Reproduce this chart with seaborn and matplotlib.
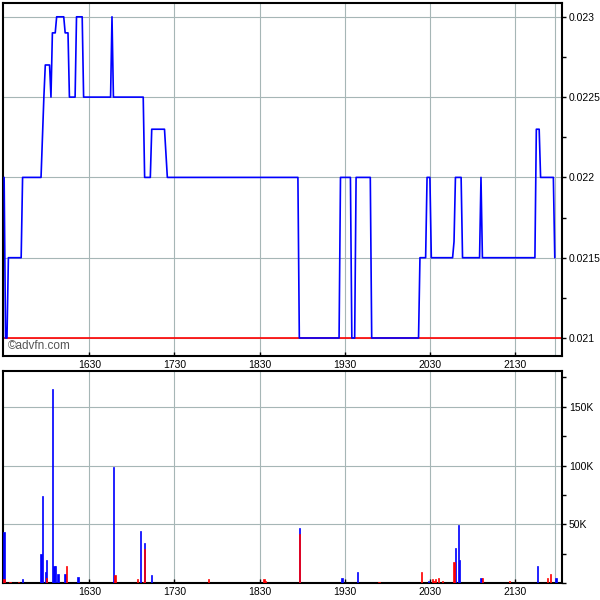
import matplotlib
matplotlib.use("Agg")
import matplotlib.pyplot as plt
from matplotlib.ticker import MultipleLocator, FixedLocator
import numpy as np
import pandas as pd
import seaborn as sns

# ---------------- data ----------------
price_times = ["15:30", "15:31", "15:32", "15:33", "15:42", "15:43", "15:56", "15:58",
               "15:59", "16:02", "16:03", "16:04", "16:06", "16:07", "16:12", "16:13",
               "16:15", "16:16", "16:20", "16:21", "16:25", "16:26", "16:45", "16:46",
               "16:47", "17:08", "17:09", "17:13", "17:14", "17:23", "17:25", "18:57",
               "18:58", "19:26", "19:27", "19:34", "19:35", "19:37", "19:38", "19:48",
               "19:49", "20:22", "20:23", "20:27", "20:28", "20:30", "20:31", "20:46",
               "20:47", "20:48", "20:52", "20:53", "21:05", "21:06", "21:07", "21:44",
               "21:45", "21:47", "21:48", "21:57", "21:58"]
prices = [0.022, 0.021, 0.021, 0.0215, 0.0215, 0.022, 0.022, 0.0225,
          0.0227, 0.0227, 0.0225, 0.0229, 0.0229, 0.023, 0.023, 0.0229,
          0.0229, 0.0225, 0.0225, 0.023, 0.023, 0.0225, 0.0225, 0.023,
          0.0225, 0.0225, 0.022, 0.022, 0.0223, 0.0223, 0.022, 0.022,
          0.021, 0.021, 0.022, 0.022, 0.021, 0.021, 0.022, 0.022,
          0.021, 0.021, 0.0215, 0.0215, 0.022, 0.022, 0.0215, 0.0215,
          0.0216, 0.022, 0.022, 0.0215, 0.0215, 0.022, 0.0215, 0.0215,
          0.0223, 0.0223, 0.022, 0.022, 0.0215]
ref_price = 0.021

buy_times = ["15:30", "15:43", "15:56", "15:57", "15:59", "16:00", "16:04", "16:05",
             "16:06", "16:08", "16:13", "16:22", "16:47", "17:06", "17:09", "17:14",
             "18:58", "19:28", "19:39", "20:29", "20:48", "20:50", "20:51", "21:06",
             "21:46", "21:59"]
buy_vols = [43600, 3400, 25000, 74000, 9400, 19700, 165000, 14500,
            14500, 7700, 7700, 5100, 99000, 44400, 34200, 6800,
            46400, 4600, 9700, 1700, 30200, 49600, 19900, 4600,
            14500, 4600]

sell_times = ["15:30", "15:34", "15:40", "16:00", "16:14", "16:48", "17:04", "17:08",
              "17:09", "17:54", "18:33", "18:34", "18:58", "19:54", "20:24", "20:32",
              "20:33", "20:34", "20:36", "20:39", "20:47", "21:07", "21:26", "21:53",
              "21:55"]
sell_vols = [3400, 1000, 1000, 4600, 14500, 6800, 3400, 1000,
             29300, 3700, 3700, 1700, 41600, 1000, 9700, 3000,
             2000, 3400, 4300, 1700, 18200, 4600, 1700, 4600,
             8000]

time_ticks = ["16:30", "17:30", "18:30", "19:30", "20:30", "21:30"]
time_labels = ["1630", "1730", "1830", "1930", "2030", "2130"]
price_ticks = [0.021, 0.0215, 0.022, 0.0225, 0.023]
price_labels = ["0.021", "0.0215", "0.022", "0.0225", "0.023"]
vol_ticks = [50000, 100000, 150000]
vol_labels = ["50K", "100K", "150K"]


def to_min(s):
    h, m = s.split(":")
    return int(h) * 60 + int(m)


price_df = pd.DataFrame({"t": [to_min(s) for s in price_times], "price": prices})
buy_df = pd.DataFrame({"t": [float(to_min(s)) for s in buy_times], "vol": buy_vols})
sell_df = pd.DataFrame({"t": [float(to_min(s)) for s in sell_times], "vol": sell_vols})

# ---------------- style ----------------
sns.set_theme(style="white")
plt.rcParams["font.family"] = ["Liberation Sans", "DejaVu Sans"]

BLUE = "#0000ff"
RED = "#ff0000"
GRID = "#a6b6b6"
XLIM = (929.2, 1323.1)

fig = plt.figure(figsize=(6, 6), dpi=100)
ax1 = fig.add_axes([0.005, 0.4067, 0.9317, 0.5883])
ax2 = fig.add_axes([0.005, 0.0283, 0.9317, 0.3533])

# price panel
sns.lineplot(data=price_df, x="t", y="price", ax=ax1, color=BLUE, lw=1.2,
             estimator=None, sort=False, zorder=3)
ax1.axhline(ref_price, color=RED, lw=1.2, zorder=2)
ax1.set_ylim(0.020888, 0.023086)

# volume panel
sns.histplot(data=buy_df, x="t", weights="vol", binwidth=1.0,
             binrange=(929.5, 1324.5), ax=ax2, color=BLUE,
             alpha=1, edgecolor=BLUE, linewidth=0.5, zorder=3)
sns.histplot(data=sell_df, x="t", weights="vol", binwidth=1.0,
             binrange=(929.5, 1324.5), ax=ax2, color=RED,
             alpha=1, edgecolor=RED, linewidth=0.5, zorder=4)
ax2.set_ylim(0, 180400)

last_t = price_df["t"].iloc[-1]

for ax in (ax1, ax2):
    ax.set_xlim(*XLIM)
    ax.set_xlabel("")
    ax.set_ylabel("")
    ax.set_xticks([to_min(s) for s in time_ticks])
    ax.set_xticklabels(time_labels)
    ax.yaxis.tick_right()
    ax.grid(True, which="major", color=GRID, lw=0.8, ls="-", zorder=0)
    ax.axvline(last_t, color=GRID, lw=0.8, ls="-", zorder=1)
    ax.set_axisbelow(True)
    for sp in ax.spines.values():
        sp.set_visible(True)
        sp.set_color("black")
        sp.set_linewidth(1.5)
    ax.tick_params(axis="x", which="both", direction="in", length=3, width=1,
                   labelsize=7.5, pad=3, colors="black", bottom=True, top=False)
    ax.tick_params(axis="y", which="both", direction="out", length=3, width=1,
                   labelsize=7.5, pad=2, colors="black", right=True, left=False,
                   labelright=True, labelleft=False)

ax1.yaxis.set_major_locator(FixedLocator(price_ticks))
ax1.set_yticklabels(price_labels)
ax1.yaxis.set_minor_locator(MultipleLocator(0.00025))

ax2.yaxis.set_major_locator(FixedLocator(vol_ticks))
ax2.set_yticklabels(vol_labels)
ax2.yaxis.set_minor_locator(MultipleLocator(25000))

ax1.text(0.009, 0.012, "©advfn.com", transform=ax1.transAxes, color="#555555",
         fontsize=8.5, ha="left", va="bottom")

fig.savefig("out.png", dpi=100)
